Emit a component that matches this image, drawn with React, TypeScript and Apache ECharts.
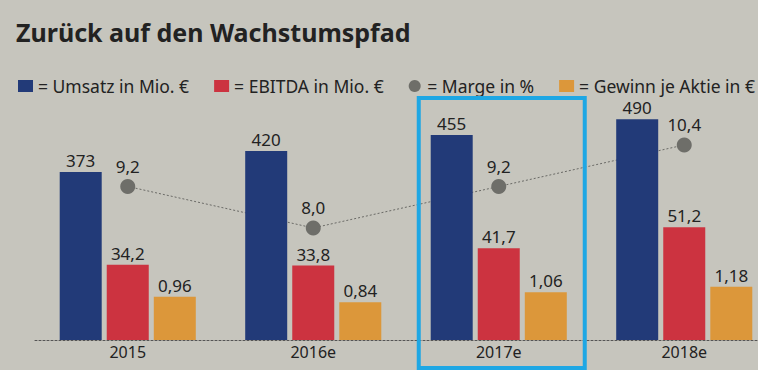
import React, { useEffect, useRef } from "react";
import * as echarts from "echarts";

const categories = ["2015", "2016e", "2017e", "2018e"];
const umsatz = [373, 420, 455, 490];
const ebitda = [34.2, 33.8, 41.7, 51.2];
const marge = [9.2, 8.0, 9.2, 10.4];
const gewinn = [0.96, 0.84, 1.06, 1.18];

const seriesNames = ["Umsatz in Mio. €", "EBITDA in Mio. €", "Marge in %", "Gewinn je Aktie in €"];
const highlighted = "2017e";

const FONT = "'Noto Sans', 'Open Sans', sans-serif";
const fmt = (d: number) => (p: any) => Number(p.value).toFixed(d).replace(".", ",");

export default function App() {
  const ref = useRef<HTMLDivElement>(null);
  useEffect(() => {
    if (!ref.current) return;
    const chart = echarts.init(ref.current, undefined, { renderer: "svg" });
    const labelStyle = {
      show: true,
      position: "top" as const,
      distance: 3,
      fontSize: 17,
      color: "#222",
      fontFamily: FONT,
    };
    chart.setOption({
      animation: false,
      backgroundColor: "#c6c5bd",
      textStyle: { fontFamily: FONT },
      title: {
        text: "Zurück auf den Wachstumspfad",
        left: 11,
        top: 14,
        textStyle: { fontSize: 25, fontWeight: "bold", color: "#222", fontFamily: FONT },
      },
      legend: {
        left: 13,
        top: 72,
        width: 760,
        itemGap: 25,
        itemWidth: 15,
        itemHeight: 12,
        formatter: "= {name}",
        textStyle: { fontSize: 17.5, lineHeight: 18, color: "#222", fontFamily: FONT },
        data: [
          { name: seriesNames[0], icon: "rect" },
          { name: seriesNames[1], icon: "rect" },
          { name: seriesNames[2], icon: "circle" },
          { name: seriesNames[3], icon: "rect" },
        ],
      },
      grid: { left: 35, right: 3, top: 100, bottom: 30 },
      xAxis: {
        type: "category",
        data: categories,
        axisTick: { show: false },
        axisLine: { lineStyle: { color: "#555", type: [2, 2], width: 1 } },
        axisLabel: { fontSize: 16, color: "#222", margin: 4, fontFamily: FONT },
      },
      yAxis: [
        { type: "value", min: 0, max: 533, show: false },
        { type: "value", min: 0, max: 109, show: false },
        { type: "value", min: 0, max: 5.33, show: false },
        { type: "value", min: 4.76, max: 11.7, show: false },
      ],
      series: [
        {
          name: seriesNames[0],
          type: "bar",
          yAxisIndex: 0,
          data: umsatz,
          barWidth: 42,
          barGap: "12%",
          z: 3,
          itemStyle: { color: "#223a78" },
          label: { ...labelStyle, formatter: fmt(0) },
        },
        {
          name: seriesNames[1],
          type: "bar",
          yAxisIndex: 1,
          data: ebitda,
          barWidth: 42,
          barGap: "12%",
          z: 3,
          itemStyle: { color: "#cc3340" },
          label: { ...labelStyle, formatter: fmt(1) },
        },
        {
          name: seriesNames[3],
          type: "bar",
          yAxisIndex: 2,
          data: gewinn,
          barWidth: 42,
          barGap: "12%",
          z: 3,
          itemStyle: { color: "#dc973a" },
          label: { ...labelStyle, formatter: fmt(2) },
        },
        {
          name: seriesNames[2],
          type: "line",
          yAxisIndex: 3,
          data: marge,
          z: 1,
          symbol: "circle",
          symbolSize: 15,
          itemStyle: { color: "#6e6e69" },
          lineStyle: { color: "#6a6a66", width: 1, type: [2, 2] },
          label: { ...labelStyle, distance: 4, formatter: fmt(1) },
        },
      ],
    });
    const cx = chart.convertToPixel({ xAxisIndex: 0 }, highlighted) as number;
    chart.setOption({
      graphic: [
        {
          type: "rect",
          shape: { x: cx - 80, y: 98, width: 166, height: 270 },
          style: { fill: "none", stroke: "#1ea7e4", lineWidth: 4 },
          z: 10,
        },
      ],
    });
    return () => chart.dispose();
  }, []);
  return (
    <div style={{ position: "absolute", left: 0, top: 0, width: 758, height: 370, overflow: "hidden", background: "#c6c5bd" }}>
      <div ref={ref} style={{ width: 780, height: 370 }} />
    </div>
  );
}
